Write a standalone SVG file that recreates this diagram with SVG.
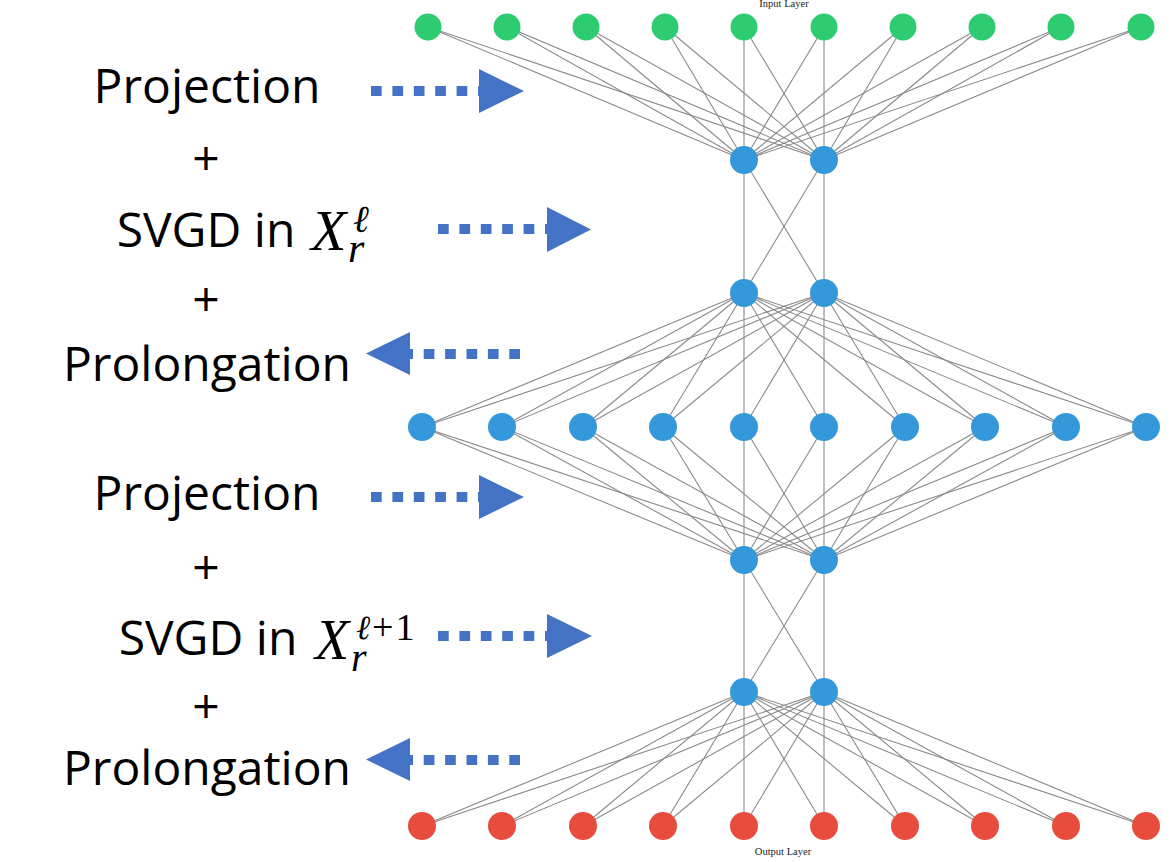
<svg xmlns="http://www.w3.org/2000/svg" width="1176" height="862" viewBox="0 0 1176 862">
<style>
.e{stroke:#8a8a8a;stroke-width:1.1;fill:none}
.g{fill:#2ECC71}
.b{fill:#3498DB}
.r{fill:#E74C3C}
.lbl{font-family:"Open Sans","Liberation Sans",sans-serif;font-size:48px;fill:#000;text-anchor:middle}
.m{font-family:"Liberation Serif","DejaVu Serif",serif;fill:#000;font-style:italic}
.up{font-style:normal}
.small{font-family:"Liberation Serif","Times New Roman",serif;font-size:10.5px;fill:#222;text-anchor:middle}
.dots{stroke:#4472C4;stroke-width:10;stroke-dasharray:10.7 10.7;fill:none}
.head{fill:#4472C4}
</style>
<rect width="1176" height="862" fill="#fff"/>
<g id="connectors">
<line class="e" x1="428" y1="27" x2="744" y2="160"/><line class="e" x1="428" y1="27" x2="824" y2="160"/>
<line class="e" x1="507" y1="27" x2="744" y2="160"/><line class="e" x1="507" y1="27" x2="824" y2="160"/>
<line class="e" x1="586" y1="27" x2="744" y2="160"/><line class="e" x1="586" y1="27" x2="824" y2="160"/>
<line class="e" x1="665" y1="27" x2="744" y2="160"/><line class="e" x1="665" y1="27" x2="824" y2="160"/>
<line class="e" x1="744" y1="27" x2="744" y2="160"/><line class="e" x1="744" y1="27" x2="824" y2="160"/>
<line class="e" x1="824" y1="27" x2="744" y2="160"/><line class="e" x1="824" y1="27" x2="824" y2="160"/>
<line class="e" x1="903" y1="27" x2="744" y2="160"/><line class="e" x1="903" y1="27" x2="824" y2="160"/>
<line class="e" x1="982" y1="27" x2="744" y2="160"/><line class="e" x1="982" y1="27" x2="824" y2="160"/>
<line class="e" x1="1061" y1="27" x2="744" y2="160"/><line class="e" x1="1061" y1="27" x2="824" y2="160"/>
<line class="e" x1="1141" y1="27" x2="744" y2="160"/><line class="e" x1="1141" y1="27" x2="824" y2="160"/>
<line class="e" x1="744" y1="160" x2="744" y2="293"/><line class="e" x1="744" y1="160" x2="824" y2="293"/>
<line class="e" x1="824" y1="160" x2="744" y2="293"/><line class="e" x1="824" y1="160" x2="824" y2="293"/>
<line class="e" x1="744" y1="293" x2="422" y2="427"/><line class="e" x1="824" y1="293" x2="422" y2="427"/>
<line class="e" x1="744" y1="293" x2="502" y2="427"/><line class="e" x1="824" y1="293" x2="502" y2="427"/>
<line class="e" x1="744" y1="293" x2="583" y2="427"/><line class="e" x1="824" y1="293" x2="583" y2="427"/>
<line class="e" x1="744" y1="293" x2="663" y2="427"/><line class="e" x1="824" y1="293" x2="663" y2="427"/>
<line class="e" x1="744" y1="293" x2="744" y2="427"/><line class="e" x1="824" y1="293" x2="744" y2="427"/>
<line class="e" x1="744" y1="293" x2="824" y2="427"/><line class="e" x1="824" y1="293" x2="824" y2="427"/>
<line class="e" x1="744" y1="293" x2="905" y2="427"/><line class="e" x1="824" y1="293" x2="905" y2="427"/>
<line class="e" x1="744" y1="293" x2="985" y2="427"/><line class="e" x1="824" y1="293" x2="985" y2="427"/>
<line class="e" x1="744" y1="293" x2="1066" y2="427"/><line class="e" x1="824" y1="293" x2="1066" y2="427"/>
<line class="e" x1="744" y1="293" x2="1146" y2="427"/><line class="e" x1="824" y1="293" x2="1146" y2="427"/>
<line class="e" x1="422" y1="427" x2="744" y2="560"/><line class="e" x1="422" y1="427" x2="824" y2="560"/>
<line class="e" x1="502" y1="427" x2="744" y2="560"/><line class="e" x1="502" y1="427" x2="824" y2="560"/>
<line class="e" x1="583" y1="427" x2="744" y2="560"/><line class="e" x1="583" y1="427" x2="824" y2="560"/>
<line class="e" x1="663" y1="427" x2="744" y2="560"/><line class="e" x1="663" y1="427" x2="824" y2="560"/>
<line class="e" x1="744" y1="427" x2="744" y2="560"/><line class="e" x1="744" y1="427" x2="824" y2="560"/>
<line class="e" x1="824" y1="427" x2="744" y2="560"/><line class="e" x1="824" y1="427" x2="824" y2="560"/>
<line class="e" x1="905" y1="427" x2="744" y2="560"/><line class="e" x1="905" y1="427" x2="824" y2="560"/>
<line class="e" x1="985" y1="427" x2="744" y2="560"/><line class="e" x1="985" y1="427" x2="824" y2="560"/>
<line class="e" x1="1066" y1="427" x2="744" y2="560"/><line class="e" x1="1066" y1="427" x2="824" y2="560"/>
<line class="e" x1="1146" y1="427" x2="744" y2="560"/><line class="e" x1="1146" y1="427" x2="824" y2="560"/>
<line class="e" x1="744" y1="560" x2="744" y2="692"/><line class="e" x1="744" y1="560" x2="824" y2="692"/>
<line class="e" x1="824" y1="560" x2="744" y2="692"/><line class="e" x1="824" y1="560" x2="824" y2="692"/>
<line class="e" x1="744" y1="692" x2="422" y2="826"/><line class="e" x1="824" y1="692" x2="422" y2="826"/>
<line class="e" x1="744" y1="692" x2="502" y2="826"/><line class="e" x1="824" y1="692" x2="502" y2="826"/>
<line class="e" x1="744" y1="692" x2="583" y2="826"/><line class="e" x1="824" y1="692" x2="583" y2="826"/>
<line class="e" x1="744" y1="692" x2="663" y2="826"/><line class="e" x1="824" y1="692" x2="663" y2="826"/>
<line class="e" x1="744" y1="692" x2="744" y2="826"/><line class="e" x1="824" y1="692" x2="744" y2="826"/>
<line class="e" x1="744" y1="692" x2="824" y2="826"/><line class="e" x1="824" y1="692" x2="824" y2="826"/>
<line class="e" x1="744" y1="692" x2="905" y2="826"/><line class="e" x1="824" y1="692" x2="905" y2="826"/>
<line class="e" x1="744" y1="692" x2="985" y2="826"/><line class="e" x1="824" y1="692" x2="985" y2="826"/>
<line class="e" x1="744" y1="692" x2="1066" y2="826"/><line class="e" x1="824" y1="692" x2="1066" y2="826"/>
<line class="e" x1="744" y1="692" x2="1146" y2="826"/><line class="e" x1="824" y1="692" x2="1146" y2="826"/>
</g>
<g id="input-layer">
<g id="in0"><circle class="g" cx="428" cy="27" r="13.5"/></g>
<g id="in1"><circle class="g" cx="507" cy="27" r="13.5"/></g>
<g id="in2"><circle class="g" cx="586" cy="27" r="13.5"/></g>
<g id="in3"><circle class="g" cx="665" cy="27" r="13.5"/></g>
<g id="in4"><circle class="g" cx="744" cy="27" r="13.5"/></g>
<g id="in5"><circle class="g" cx="824" cy="27" r="13.5"/></g>
<g id="in6"><circle class="g" cx="903" cy="27" r="13.5"/></g>
<g id="in7"><circle class="g" cx="982" cy="27" r="13.5"/></g>
<g id="in8"><circle class="g" cx="1061" cy="27" r="13.5"/></g>
<g id="in9"><circle class="g" cx="1141" cy="27" r="13.5"/></g>
</g>
<g id="h1"><g id="h1a"><circle class="b" cx="744" cy="160" r="14"/></g><g id="h1b"><circle class="b" cx="824" cy="160" r="14"/></g></g>
<g id="h2"><g id="h2a"><circle class="b" cx="744" cy="293" r="14"/></g><g id="h2b"><circle class="b" cx="824" cy="293" r="14"/></g></g>
<g id="mid-layer">
<g id="m0"><circle class="b" cx="422" cy="427" r="14"/></g>
<g id="m1"><circle class="b" cx="502" cy="427" r="14"/></g>
<g id="m2"><circle class="b" cx="583" cy="427" r="14"/></g>
<g id="m3"><circle class="b" cx="663" cy="427" r="14"/></g>
<g id="m4"><circle class="b" cx="744" cy="427" r="14"/></g>
<g id="m5"><circle class="b" cx="824" cy="427" r="14"/></g>
<g id="m6"><circle class="b" cx="905" cy="427" r="14"/></g>
<g id="m7"><circle class="b" cx="985" cy="427" r="14"/></g>
<g id="m8"><circle class="b" cx="1066" cy="427" r="14"/></g>
<g id="m9"><circle class="b" cx="1146" cy="427" r="14"/></g>
</g>
<g id="h3"><g id="h3a"><circle class="b" cx="744" cy="560" r="14"/></g><g id="h3b"><circle class="b" cx="824" cy="560" r="14"/></g></g>
<g id="h4"><g id="h4a"><circle class="b" cx="744" cy="692" r="14"/></g><g id="h4b"><circle class="b" cx="824" cy="692" r="14"/></g></g>
<g id="output-layer">
<g id="o0"><circle class="r" cx="422" cy="826" r="14"/></g>
<g id="o1"><circle class="r" cx="502" cy="826" r="14"/></g>
<g id="o2"><circle class="r" cx="583" cy="826" r="14"/></g>
<g id="o3"><circle class="r" cx="663" cy="826" r="14"/></g>
<g id="o4"><circle class="r" cx="744" cy="826" r="14"/></g>
<g id="o5"><circle class="r" cx="824" cy="826" r="14"/></g>
<g id="o6"><circle class="r" cx="905" cy="826" r="14"/></g>
<g id="o7"><circle class="r" cx="985" cy="826" r="14"/></g>
<g id="o8"><circle class="r" cx="1066" cy="826" r="14"/></g>
<g id="o9"><circle class="r" cx="1146" cy="826" r="14"/></g>
</g>
<text class="small" x="784" y="7">Input Layer</text>
<text class="small" x="783" y="855">Output Layer</text>
<g id="labels">
<text class="lbl" x="207" y="103">Projection</text>
<text class="lbl" x="206" y="175">+</text>
<text class="lbl" x="206" y="247">SVGD in</text>
<text class="m" x="311" y="250" font-size="58">X<tspan x="353" y="232" font-size="38">ℓ</tspan><tspan x="348" y="262" font-size="42">r</tspan></text>
<text class="lbl" x="206" y="316">+</text>
<text class="lbl" x="207" y="381">Prolongation</text>
<text class="lbl" x="207" y="510">Projection</text>
<text class="lbl" x="206" y="584">+</text>
<text class="lbl" x="208" y="655">SVGD in</text>
<text class="m" x="315" y="659" font-size="56">X<tspan x="356" y="639" font-size="34">ℓ</tspan><tspan class="up" x="372" y="640" font-size="38" letter-spacing="2">+1</tspan><tspan x="351" y="671" font-size="40">r</tspan></text>
<text class="lbl" x="206" y="723">+</text>
<text class="lbl" x="207" y="785">Prolongation</text>
</g>
<g id="arrows">
<line class="dots" x1="371" y1="91" x2="481" y2="91"/><polygon class="head" points="479,69 524,91 479,113"/>
<line class="dots" x1="438" y1="229" x2="549" y2="229"/><polygon class="head" points="547,207 591,229.5 547,252"/>
<line class="dots" x1="520" y1="354" x2="408" y2="354"/><polygon class="head" points="410,332 366,353.5 410,375"/>
<line class="dots" x1="371" y1="497" x2="481" y2="497"/><polygon class="head" points="479,475 524,497 479,519"/>
<line class="dots" x1="438" y1="636" x2="549" y2="636"/><polygon class="head" points="547,614 592,636 547,658"/>
<line class="dots" x1="520" y1="760" x2="408" y2="760"/><polygon class="head" points="410,738 366,759.5 410,781"/>
</g>
</svg>
